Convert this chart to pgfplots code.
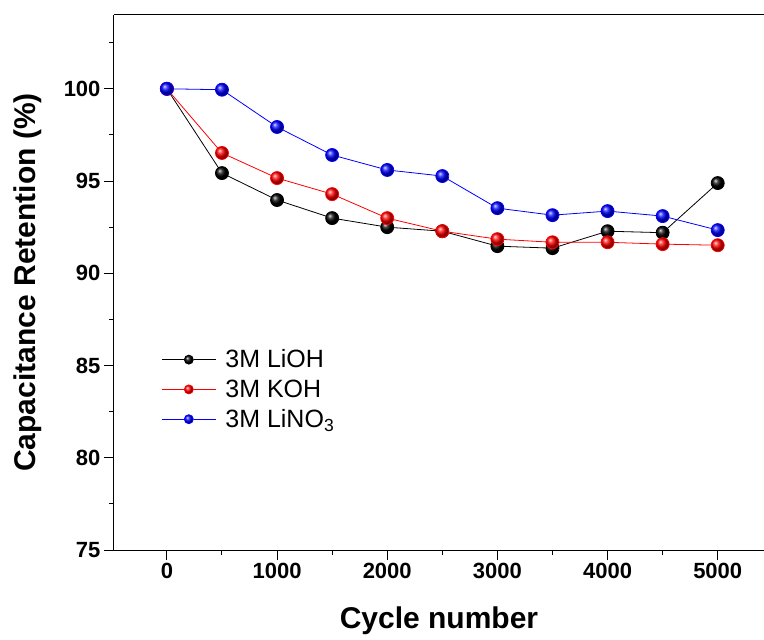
\documentclass[border=0pt]{standalone}
\usepackage{fontspec}
\setmainfont{Liberation Sans}
\usepackage{pgfplots}
\pgfplotsset{compat=1.18}
\usetikzlibrary{shadings}

\begin{document}
\begin{tikzpicture}
\begin{axis}[
    name=main,
    scale only axis,
    width=650pt, height=535pt,
    xmin=-480, xmax=5420,
    ymin=75, ymax=104,
    separate axis lines,
    axis x line=box, axis y line=left,
    x axis line style={-, line width=1pt},
    y axis line style={-, line width=1pt},
    xtick={0,1000,2000,3000,4000,5000},
    minor xtick={500,1500,2500,3500,4500},
    ytick={75,80,85,90,95,100},
    minor ytick={77.5,82.5,87.5,92.5,97.5,102.5},
    xtick pos=bottom, ytick pos=left,
    tick align=outside,
    major tick length=10pt, minor tick length=5pt,
    tick style={line width=1pt, black},
    /pgf/number format/assume math mode=true,
    /pgf/number format/1000 sep={},
    tick label style={font=\bfseries\fontsize{22}{26}\selectfont},
    xlabel={\bfseries Cycle number},
    ylabel={\bfseries Capacitance Retention (\%)},
    label style={font=\bfseries\fontsize{30}{34}\selectfont},
    xlabel style={yshift=-21pt},
    ylabel style={yshift=15pt},
    legend style={draw=none, fill=none, at={(0.068,0.382)}, anchor=north west,
        font=\fontsize{25}{29}\selectfont, row sep=6.5pt},
    legend cell align=left,
    legend image code/.code={%
        \draw[#1, mark=none] (0cm,0cm) -- (0.78cm,0cm) (1.12cm,0cm) -- (1.9cm,0cm);
        \draw[#1, mark size=4.5pt] plot coordinates {(0.95cm,0cm)};
        \path (2.15cm,0cm);},
]
\addplot[black, line width=0.8pt, mark=ball, mark options={ball color=black}, mark size=6.5pt] coordinates {
    (0,100) (500,95.43) (1000,93.97) (1500,92.99) (2000,92.5) (2500,92.28)
    (3000,91.47) (3500,91.36) (4000,92.28) (4500,92.2) (5000,94.89)
};
\addlegendentry{3M LiOH}
\addplot[red, line width=0.8pt, mark=ball, mark options={ball color=red}, mark size=6.5pt] coordinates {
    (0,100) (500,96.52) (1000,95.16) (1500,94.29) (2000,92.99) (2500,92.28)
    (3000,91.85) (3500,91.68) (4000,91.68) (4500,91.58) (5000,91.52)
};
\addlegendentry{3M KOH}
\addplot[blue, line width=0.8pt, mark=ball, mark options={ball color=blue}, mark size=6.5pt] coordinates {
    (0,100) (500,99.95) (1000,97.93) (1500,96.41) (2000,95.6) (2500,95.27)
    (3000,93.53) (3500,93.15) (4000,93.37) (4500,93.1) (5000,92.34)
};
\addlegendentry{3M LiNO\textsubscript{3}}
\end{axis}
\pgfresetboundingbox
\useasboundingbox ([shift={(-114pt,-89pt)}]main.south west) rectangle ([shift={(0pt,15pt)}]main.north east);
\end{tikzpicture}
\end{document}
